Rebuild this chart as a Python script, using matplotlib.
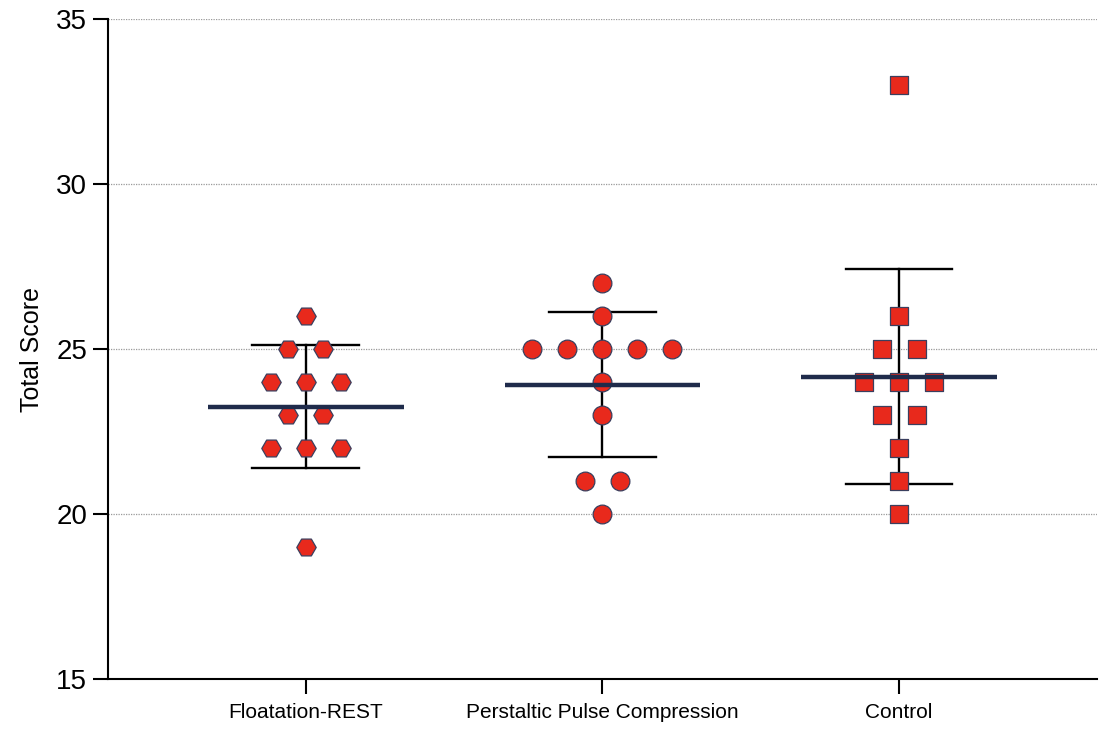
import numpy as np
import matplotlib
matplotlib.use("Agg")
from matplotlib import pyplot as plt

plt.rcParams['font.family'] = ['Liberation Sans', 'DejaVu Sans']

groups = ["Floatation-REST", "Perstaltic Pulse Compression", "Control"]
floatation = [26, 25, 25, 24, 24, 24, 23, 23, 22, 22, 22, 19]
ppc = [27, 26, 25, 25, 25, 25, 25, 24, 23, 21, 21, 20]
control = [33, 26, 25, 25, 24, 24, 24, 23, 23, 22, 21, 20]
data = [floatation, ppc, control]
markers = ['H', 'o', 's']
msizes = [14, 13.5, 13]

fill = '#E8291C'
edge = '#3A3F5E'
navy = '#1F2B4B'

fig = plt.figure(figsize=(10.99, 7.34), dpi=100)
ax = fig.add_axes([0.0983, 0.0749, 0.8997, 0.8992])

step = 0.118
for i, vals in enumerate(data):
    vals = np.array(vals, dtype=float)
    xs = np.zeros(len(vals))
    for v in np.unique(vals):
        idx = np.where(vals == v)[0]
        n = len(idx)
        xs[idx] = i + (np.arange(n) - (n - 1) / 2) * step
    m = vals.mean()
    sd = vals.std(ddof=1)
    # mean +/- SD bars
    ax.plot([i, i], [m - sd, m + sd], color='black', lw=1.7, zorder=2)
    ax.plot([i - 0.18, i + 0.18], [m + sd, m + sd], color='black', lw=1.7, zorder=2)
    ax.plot([i - 0.18, i + 0.18], [m - sd, m - sd], color='black', lw=1.7, zorder=2)
    ax.scatter(xs, vals, marker=markers[i], s=msizes[i] ** 2, facecolor=fill,
               edgecolor=edge, linewidth=0.9, zorder=3)
    ax.plot([i - 0.33, i + 0.33], [m, m], color=navy, lw=3.2, zorder=4,
            solid_capstyle='butt')

ax.set_xlim(-2 / 3, 8 / 3)
ax.set_ylim(15, 35)
ax.set_yticks([15, 20, 25, 30, 35])
ax.set_xticks([0, 1, 2])
ax.set_xticklabels(groups, fontsize=15)
ax.tick_params(axis='y', labelsize=20, length=11, width=1.5, pad=4)
ax.tick_params(axis='x', length=11, width=1.5, pad=6)
for y in [20, 25, 30, 35]:
    ax.axhline(y, color='#9a9a9a', lw=0.9, ls=(0, (1, 1)), zorder=1)
ax.spines['top'].set_visible(False)
ax.spines['right'].set_visible(False)
ax.spines['left'].set_linewidth(1.5)
ax.spines['bottom'].set_linewidth(1.5)
ax.set_ylabel("Total Score", fontsize=18, labelpad=9)

plt.savefig("out.png", dpi=100)
